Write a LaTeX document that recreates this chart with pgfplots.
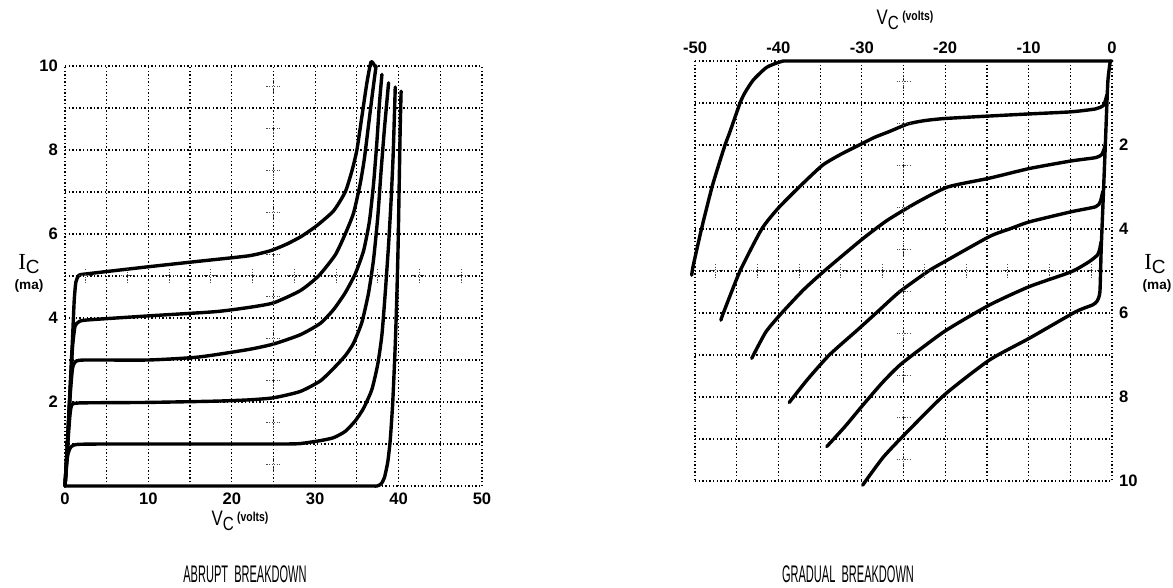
\documentclass[border=0pt]{standalone}
\usepackage{pgfplots}
\pgfplotsset{compat=1.18}
\usepackage{fontspec}
\setmainfont{Liberation Sans}
\newfontfamily\narrowfont[FakeStretch=0.46]{Liberation Sans}
\newfontfamily\midfont[FakeStretch=0.8]{Liberation Sans}
\newfontfamily\seriffont{Liberation Serif}

\newcommand{\VC}{{\midfont\fontsize{10.5}{12}\selectfont V\raisebox{-0.45ex}{\fontsize{9.5}{11}\selectfont C}\,\raisebox{0.35ex}{\bfseries\fontsize{6.5}{7}\selectfont(volts)}}}
\newcommand{\ICa}{{\seriffont\fontsize{11.5}{12}\selectfont I\raisebox{-0.45ex}{\fontsize{9.5}{10}\selectfont\rmfamily C}}}
\newcommand{\ma}{{\bfseries\fontsize{6.8}{7}\selectfont(ma)}}

\pgfplotsset{
 osc/.style={
  scale only axis, width=208.5pt, height=210pt,
  axis line style={draw=none},
  major tick length=0pt, minor tick length=0pt,
  grid=both,
  major grid style={black, line width=0.6pt, dash pattern=on 0.7pt off 1.1pt},
  minor grid style={black, line width=0.6pt, dash pattern=on 0.7pt off 1.1pt},
  ymin=0, ymax=10,
  ytick={2,4,6,8,10}, minor ytick={0,1,3,5,7,9},
  tick label style={font=\fontsize{8.3}{9}\selectfont\bfseries},
  /pgf/number format/assume math mode=true,
  clip=false,
 },
 crv/.style={line width=1.7pt, black, line join=round, line cap=round, smooth, tension=0.35},
 crs/.style={only marks, mark=+, mark size=3.5pt, gray!60!black, mark options={line width=0.5pt, dash pattern=on 0.6pt off 0.7pt}},
}

\begin{document}
\begin{tikzpicture}
\path[use as bounding box] (0,0) rectangle (586.5pt,294pt);

% ---------------- Left: abrupt breakdown ----------------
\begin{axis}[osc, at={(32.5pt,51pt)}, anchor=south west,
  xmin=0, xmax=50, xtick={0,10,...,50}, minor xtick={5,15,...,45}]
\addplot[crs] coordinates {(25,0.5)(25,1.5)(25,2.5)(25,3.5)(25,4.5)(25,5.5)(25,6.5)(25,7.5)(25,8.5)(25,9.5)
 (2.5,5)(7.5,5)(12.5,5)(17.5,5)(22.5,5)(27.5,5)(32.5,5)(37.5,5)(42.5,5)(47.5,5)};
% I_B = 0
\addplot[crv] coordinates {(0,0)(20,0)(36,0)(37.4,0)(37.9,0.05)(38.3,0.2)(38.7,0.57)(39.0,1.1)(39.3,2.0)(39.6,3.36)(39.8,4.6)(39.95,5.8)(40.1,7.5)(40.2,8.6)(40.3,9.4)};
% plateau 1
\addplot[crv] coordinates {(0,0)(0.3,0.7)(0.7,0.93)(1.5,0.99)(5,1.0)(15,1.0)(26,1.0)(28.2,1.01)(30.6,1.08)(32.2,1.15)(33.6,1.3)(34.8,1.55)(35.8,1.85)(36.8,2.3)(37.5,2.9)(38.0,3.6)(38.4,4.6)(38.8,5.75)(39.1,6.8)(39.35,7.9)(39.6,9.5)};
% plateau 2
\addplot[crv] coordinates {(0,0)(0.3,0.9)(0.6,1.7)(0.9,1.95)(2.5,1.98)(10,1.99)(18,2.02)(22,2.05)(25,2.1)(28.2,2.25)(30.6,2.5)(32.2,2.8)(33.6,3.1)(34.6,3.4)(35.6,3.9)(36.4,4.6)(37.0,5.4)(37.5,6.4)(37.9,7.5)(38.3,8.5)(38.8,9.6)};
% plateau 3
\addplot[crv] coordinates {(0,0)(0.3,1)(0.6,2.1)(0.9,2.8)(1.3,2.97)(2.5,3.0)(10,3.0)(16,3.07)(22,3.25)(25,3.38)(28.2,3.6)(30.6,3.87)(32.2,4.2)(33.6,4.6)(34.8,5.05)(35.8,5.6)(36.5,6.3)(37.0,7.2)(37.4,8.2)(37.7,9.1)(38.0,9.8)};
% plateau 4
\addplot[crv] coordinates {(0,0)(0.3,1)(0.6,2.2)(0.9,3.3)(1.2,3.8)(1.6,3.9)(2.5,3.95)(10,4.05)(18,4.15)(22,4.25)(25,4.36)(28.2,4.65)(30.4,5.0)(32.4,5.5)(33.6,6.0)(34.6,6.5)(35.4,7.2)(35.9,7.8)(36.4,8.6)(36.9,9.4)(37.3,10.0)};
% plateau 5
\addplot[crv] coordinates {(0,0)(0.3,1.1)(0.6,2.3)(0.9,3.5)(1.1,4.4)(1.3,4.85)(1.7,5.02)(3,5.06)(10,5.22)(16,5.35)(22,5.48)(24.6,5.6)(26.6,5.76)(28.4,5.95)(30.2,6.2)(32.2,6.55)(33.6,7.0)(34.4,7.5)(35.0,8.0)(35.6,8.8)(36.2,9.6)(36.7,10.1)(37.2,9.98)};
\end{axis}

% ---------------- Right: gradual breakdown ----------------
\begin{axis}[osc, at={(347.5pt,53.5pt)}, anchor=south west,
  xmin=-50, xmax=0, xtick={-50,-40,...,0}, minor xtick={-45,-35,...,-5},
  xticklabel pos=upper, yticklabel pos=right, y dir=reverse]
\addplot[crs] coordinates {(-25,0.5)(-25,1.5)(-25,2.5)(-25,3.5)(-25,4.5)(-25,5.5)(-25,6.5)(-25,7.5)(-25,8.5)(-25,9.5)
 (-2.5,5)(-7.5,5)(-12.5,5)(-17.5,5)(-22.5,5)(-27.5,5)(-32.5,5)(-37.5,5)(-42.5,5)(-47.5,5)};
% A
\addplot[crv] coordinates {(0,0)(-20,0)(-38,0)(-39.6,0.01)(-41.4,0.15)(-43.0,0.45)(-44.0,0.75)(-44.6,1.0)(-45.8,1.68)(-46.4,2.0)(-47.2,2.5)(-48.0,3.03)(-49.2,3.98)(-50.2,4.86)(-50.4,5.1)};
% vertical + F
\addplot[crv] coordinates {(-0.2,0)(-0.5,0.5)(-0.8,2.0)(-1.1,3.5)(-1.3,4.5)(-1.45,5.5)(-1.8,5.72)(-2.35,5.81)(-4.35,5.97)(-9.9,6.6)(-14.7,7.12)(-20.1,7.95)(-25.1,8.94)(-27.5,9.45)(-29.9,10.1)};
% B
\addplot[crv] coordinates {(-0.6,0.8)(-1.0,1.05)(-1.95,1.14)(-4.9,1.21)(-9.9,1.26)(-14.7,1.31)(-20.1,1.37)(-22.5,1.42)(-24.5,1.5)(-26.7,1.68)(-28.5,1.82)(-30.3,2.0)(-32.5,2.22)(-34.7,2.48)(-37.4,2.98)(-40.0,3.5)(-42.0,4.0)(-44.6,5.0)(-46.6,6.0)(-46.9,6.17)};
% C
\addplot[crv] coordinates {(-0.8,2.0)(-1.2,2.22)(-1.95,2.30)(-4.9,2.38)(-9.9,2.56)(-14.7,2.79)(-19.7,3.0)(-23.5,3.38)(-27,3.8)(-30,4.25)(-34.5,5.0)(-37,5.45)(-39.6,6.0)(-41.5,6.45)(-43.2,7.08)};
% D
\addplot[crv] coordinates {(-1.1,3.1)(-1.4,3.35)(-1.95,3.47)(-4.9,3.59)(-9.9,3.83)(-12.3,4.0)(-14.7,4.18)(-20.1,4.78)(-22.0,5.0)(-25.5,5.5)(-28.0,5.95)(-30.5,6.4)(-33.9,7.0)(-36.5,7.58)(-38.7,8.13)};
% E
\addplot[crv] coordinates {(-1.3,4.3)(-1.5,4.5)(-1.75,4.62)(-2.75,4.78)(-4.9,5.02)(-9.9,5.37)(-14.7,5.81)(-20.1,6.44)(-25.2,7.2)(-27.5,7.65)(-29.9,8.2)(-32,8.7)(-34.2,9.18)};
\end{axis}

% ---------------- Labels ----------------
\node at (120pt,33.5pt) {\VC};
\node at (452.5pt,284pt) {\VC};
\node at (14.5pt,162pt) {\ICa};
\node at (14.5pt,151pt) {\ma};
\node at (577.5pt,162pt) {\ICa};
\node at (578.5pt,151pt) {\ma};
\node[anchor=base, inner sep=0pt, font=\narrowfont\fontsize{12}{14}\selectfont] at (122.5pt,2.5pt) {ABRUPT\ \ BREAKDOWN};
\node[anchor=base, inner sep=0pt, font=\narrowfont\fontsize{12}{14}\selectfont] at (424pt,2.5pt) {GRADUAL\ \ BREAKDOWN};
\end{tikzpicture}
\end{document}
